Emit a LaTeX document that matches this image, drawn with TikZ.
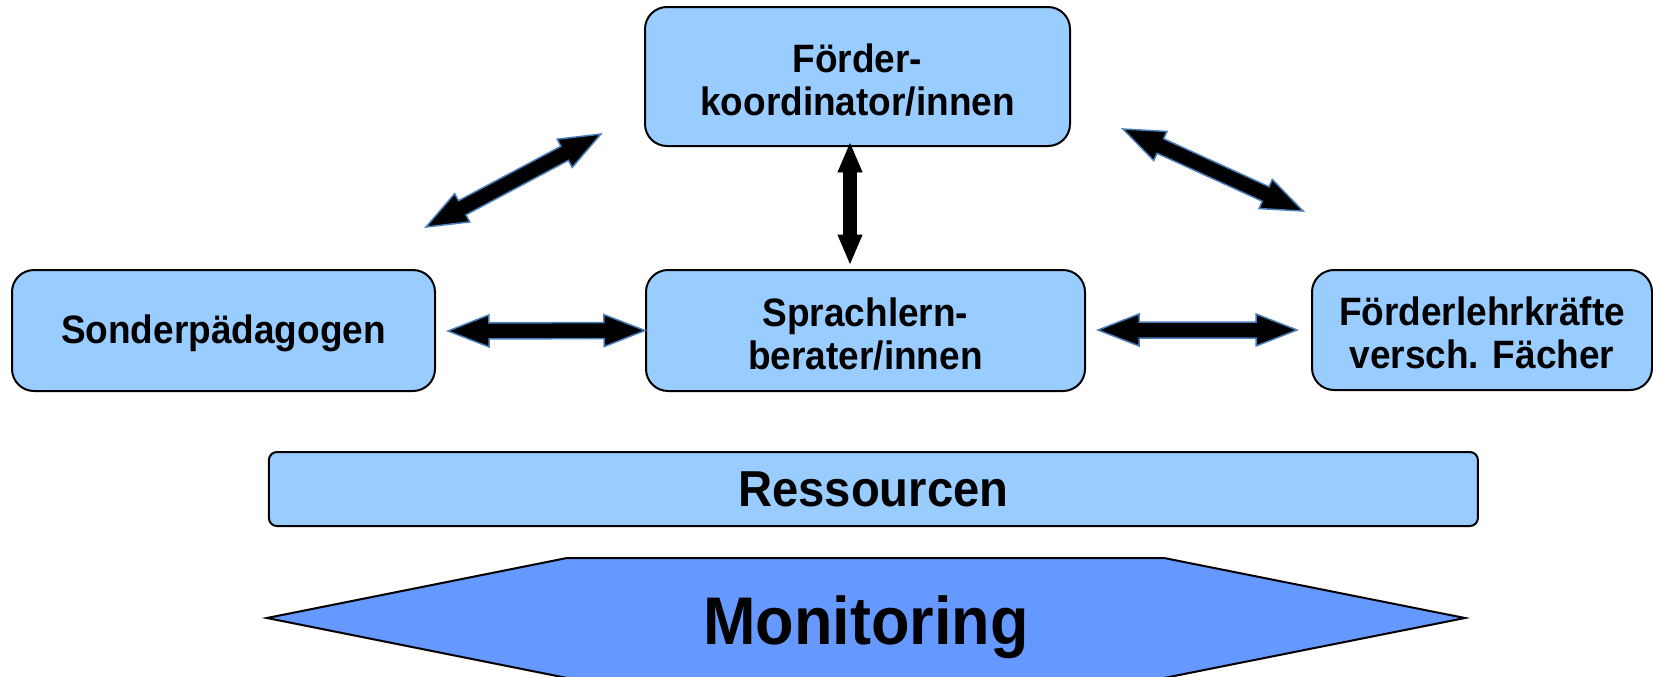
\documentclass[tikz,border=0pt]{standalone}
\usepackage{fontspec}
\setmainfont{Liberation Sans}
\usepackage{graphicx}
\usetikzlibrary{calc}

\definecolor{boxfill}{HTML}{99CCFF}
\definecolor{hexfill}{HTML}{6699FF}
\definecolor{rim}{HTML}{4A7EBB}

% slightly tall lettering
\newcommand\tall[1]{\scalebox{1}[1.07]{#1}}
% tall lettering, set a little lower in its box (reported size unchanged)
\newcommand\tallow[1]{\raisebox{-1.6pt}[\height][\depth]{\scalebox{1}[1.07]{#1}}}

% block double arrow: style, from, to, head length, head half width, shaft half width
\newcommand\twohead[6]{%
  \path let \p1=($(#3)-(#2)$), \n1={veclen(\x1,\y1)}, \n2={atan2(\y1,\x1)} in
    \pgfextra{\xdef\arrlen{\n1}\xdef\arrang{\n2}};
  \begin{scope}[shift={(#2)}, rotate=\arrang]
    \draw[#1] (0pt,0pt) -- (#4,#5) -- (#4,#6) -- ({\arrlen-#4},#6) -- ({\arrlen-#4},#5)
      -- ({\arrlen+0pt},0pt) -- ({\arrlen-#4},-#5) -- ({\arrlen-#4},-#6) -- (#4,-#6) -- (#4,-#5) -- cycle;
  \end{scope}}

\tikzset{
  box/.style={draw=black, line width=1pt, fill=boxfill, rounded corners=11pt,
    align=center, inner sep=0pt, font=\fontsize{18.5pt}{21.5pt}\selectfont\bfseries},
  dbl/.style={fill=black, draw=rim, line width=0.75pt, line join=miter},
  dblv/.style={fill=black, draw=black, line width=0.4pt, line join=miter},
}

\begin{document}
\begin{tikzpicture}[x=0.5pt, y=-0.5pt]
\clip (0,0) rectangle (1653,676);

% role boxes
\node[box, minimum width=212.5pt, minimum height=69.5pt] (koord) at (857.5,76.5)
  {\tallow{Förder-}\\\tallow{koordinator/innen}};
\node[box, minimum width=219.5pt, minimum height=60.5pt] (sprach) at (865.5,330.5)
  {\tallow{Sprachlern-}\\\tallow{berater/innen}};
\node[box, minimum width=211.5pt, minimum height=60.5pt] (sonder) at (223.5,330.5)
  {\tallow{Sonderpädagogen}};
\node[box, minimum width=170pt, minimum height=60pt] (lehr) at (1482,330)
  {\tallow{Förderlehrkräfte}\\\tallow{versch. Fächer}};

% resources bar
\node[box, rounded corners=4pt, minimum width=604.5pt, minimum height=37pt,
  font=\fontsize{23.6pt}{28pt}\selectfont\bfseries] (res) at (873.4,489) {\tall{Ressourcen}};

% monitoring hexagon
\draw[fill=hexfill, line width=1pt, line join=miter]
  (267,618) -- (567,558) -- (1164,558) -- (1465,618) -- (1164,678) -- (567,678) -- cycle;
\node[font=\fontsize{31.5pt}{36pt}\selectfont\bfseries, anchor=base, inner sep=0pt]
  (mon) at (866,644) {\tall{Monitoring}};

% arrow end points
\coordinate (hl) at (448,331);
\coordinate (hr1) at (1098,330);
\coordinate (hr2) at (1297,330);
\coordinate (vt) at (850,144);
\coordinate (vb) at (850,263);
\coordinate (dl1) at (426,227);
\coordinate (dl2) at (601,134);
\coordinate (dr1) at (1123,129);
\coordinate (dr2) at (1303,211);

% links between the roles
\twohead{dbl}{hl}{sprach.west}{20.5pt}{8pt}{4pt}
\twohead{dbl}{hr1}{hr2}{20.5pt}{8pt}{4pt}
\twohead{dblv}{vb}{vt}{14pt}{6pt}{3.25pt}
\twohead{dbl}{dl1}{dl2}{20.5pt}{8pt}{4pt}
\twohead{dbl}{dr1}{dr2}{20.5pt}{8pt}{4pt}
\end{tikzpicture}
\end{document}
